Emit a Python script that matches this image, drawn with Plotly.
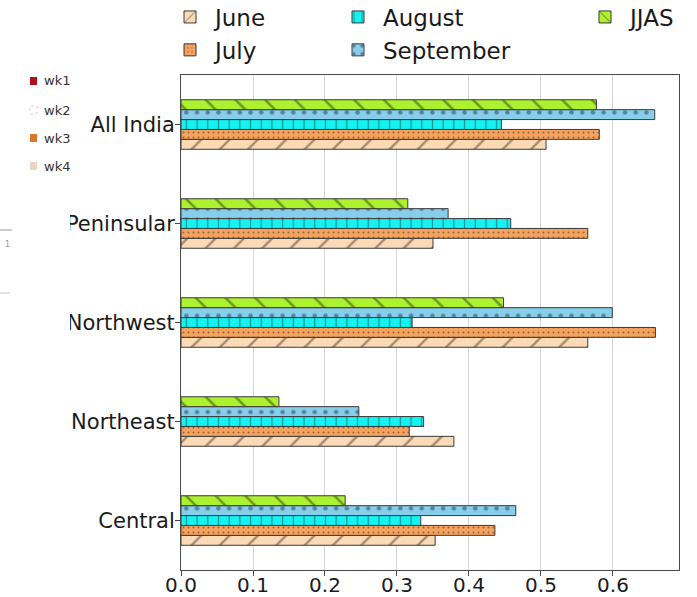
import plotly.graph_objects as go

# Regions (bottom to top on the y axis)
regions = ["Central", "Northeast", "Northwest", "Peninsular", "All India"]

# Values per month / season for each region
june = [0.353, 0.379, 0.565, 0.350, 0.507]
july = [0.436, 0.317, 0.659, 0.565, 0.581]
august = [0.333, 0.337, 0.321, 0.458, 0.445]
september = [0.465, 0.247, 0.599, 0.371, 0.658]
jjas = [0.228, 0.136, 0.448, 0.315, 0.577]

x_ticks = [0.0, 0.1, 0.2, 0.3, 0.4, 0.5, 0.6]

# Side legend of the neighbouring panel
wk_labels = ["wk1", "wk2", "wk3", "wk4"]
wk_colors = ["#b0101a", "#ffffff", "#d9782a", "#ead6c4"]

W, H = 697, 597
FONT = "DejaVu Sans"

series = [
    dict(name="June", values=june, color="#fddab6", shape="/", size=20, solidity=0.12, fg="#4a3a2e", legend="legend"),
    dict(name="July", values=july, color="#f4a25e", shape=".", size=5, solidity=0.12, fg="#3a2616", legend="legend"),
    dict(name="August", values=august, color="#14f2f2", shape="|", size=10.7, solidity=0.12, fg="#1d3a3a", legend="legend2"),
    dict(name="September", values=september, color="#87ceeb", shape=".", size=10.7, solidity=0.14, fg="#1f3550", legend="legend2"),
    dict(name="JJAS", values=jjas, color="#acf22e", shape="\\", size=21, solidity=0.12, fg="#2e3a16", legend="legend3"),
]

fig = go.Figure()
for s in series:
    fig.add_trace(go.Bar(
        y=regions,
        x=s["values"],
        name=s["name"],
        orientation="h",
        legend=s["legend"],
        legendgroup=s["name"],
        marker=dict(
            color=s["color"],
            line=dict(color="#3a3a3a", width=1),
            pattern=dict(shape=s["shape"], size=s["size"], solidity=s["solidity"],
                         fgcolor=s["fg"], bgcolor=s["color"], fillmode="overlay"),
        ),
        hoverinfo="x+y+name",
    ))


def legend_box(px, py_mid):
    return dict(
        xref="container", yref="container",
        x=px / W, y=1 - py_mid / H, xanchor="left", yanchor="middle",
        orientation="v", bgcolor="rgba(0,0,0,0)", borderwidth=0,
        font=dict(family=FONT, size=23, color="#1a1a1a"),
        tracegroupgap=0, itemwidth=40,
    )


shapes = []
annotations = []

# Patch hiding the left edge of the neighbouring panel
shapes.append(dict(type="rect", xref="paper", yref="paper", layer="above",
                   x0=-181 / 498, x1=(70 - 181) / 498,
                   y0=(570 - 345) / 495, y1=(570 - 195) / 495,
                   fillcolor="white", line=dict(width=0)))

# Neighbouring panel remnants: short axis stubs
shapes.append(dict(type="line", xref="paper", yref="paper", layer="above",
                   x0=-181 / 498, x1=(12 - 181) / 498,
                   y0=(570 - 230) / 495, y1=(570 - 230) / 495,
                   line=dict(color="#9a9a9a", width=1)))
shapes.append(dict(type="line", xref="paper", yref="paper", layer="above",
                   x0=-181 / 498, x1=(10 - 181) / 498,
                   y0=(570 - 293) / 495, y1=(570 - 293) / 495,
                   line=dict(color="#c4c4c4", width=1)))
annotations.append(dict(text="1", xref="paper", yref="paper", showarrow=False,
                        x=(3 - 181) / 498, y=(570 - 238) / 495,
                        font=dict(family=FONT, size=8, color="#999999")))

wk_y = [81, 110, 138, 166]
for lab, col, yy in zip(wk_labels, wk_colors, wk_y):
    border = dict(color="#e8c8c8", width=1, dash="dot") if col == "#ffffff" else dict(width=0)
    shapes.append(dict(type="rect", xref="paper", yref="paper", layer="above",
                       x0=(30 - 181) / 498, x1=(37 - 181) / 498,
                       y0=(570 - yy - 4) / 495, y1=(570 - yy + 4) / 495,
                       fillcolor=col, line=border))
    annotations.append(dict(text=lab, xref="paper", yref="paper", showarrow=False,
                            x=(42 - 181) / 498, y=(570 - yy) / 495,
                            xanchor="left", yanchor="middle",
                            font=dict(family=FONT, size=13, color="#333333")))

fig.update_layout(
    width=W, height=H,
    margin=dict(l=181, r=18, t=75, b=27, autoexpand=False),
    paper_bgcolor="white", plot_bgcolor="white",
    barmode="group", bargap=0.5, bargroupgap=0,
    font=dict(family=FONT, color="#1a1a1a"),
    legend=legend_box(165, 33.5),
    legend2=legend_box(333, 33.5),
    legend3=legend_box(580, 17),
    shapes=shapes,
    annotations=annotations,
    xaxis=dict(
        range=[0, 0.6917],
        tickvals=x_ticks,
        ticktext=[f"{v:.1f}" for v in x_ticks],
        showgrid=True, gridcolor="#d6d6d6", gridwidth=1,
        zeroline=False,
        showline=True, mirror=True, linecolor="#4a4a4a", linewidth=1,
        ticks="outside", ticklen=5, tickcolor="#4a4a4a",
        ticklabelstandoff=-8,
        tickfont=dict(family=FONT, size=20, color="#1a1a1a"),
    ),
    yaxis=dict(
        type="category",
        categoryorder="array", categoryarray=regions,
        range=[-0.5, 4.5],
        showgrid=False, zeroline=False,
        showline=True, mirror=True, linecolor="#4a4a4a", linewidth=1,
        ticks="outside", ticklen=5, tickcolor="#4a4a4a",
        ticklabelstandoff=-4,
        tickfont=dict(family=FONT, size=21, color="#1a1a1a"),
    ),
)

fig.write_html("out.html")
